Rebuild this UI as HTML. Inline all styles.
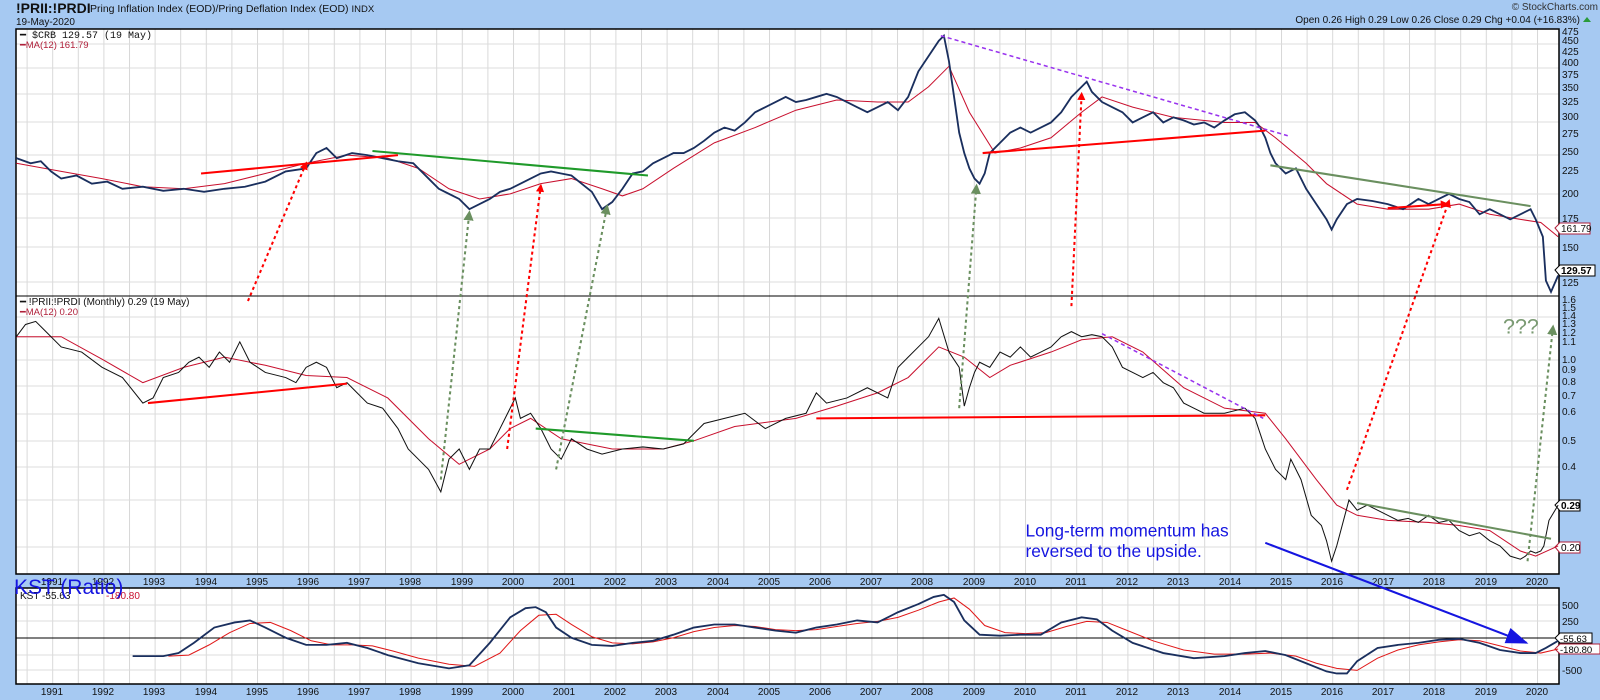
<!DOCTYPE html>
<html><head><meta charset="utf-8"><style>
body{margin:0;background:#a6c9f2;}
svg{display:block;font-family:"Liberation Sans",sans-serif;}
</style></head><body>
<svg width="1600" height="700" viewBox="0 0 1600 700" xmlns="http://www.w3.org/2000/svg">
<defs>
<pattern id="g" x="1" y="0" width="25.6" height="700" patternUnits="userSpaceOnUse"><line x1="0.5" y1="0" x2="0.5" y2="700" stroke="#d8d8d8" stroke-width="1"/></pattern>
<marker id="ar" markerWidth="8" markerHeight="8" refX="6" refY="4" orient="auto" markerUnits="userSpaceOnUse"><path d="M0,0 L8,4 L0,8z" fill="red"/></marker>
<marker id="ag" markerWidth="10" markerHeight="10" refX="8" refY="5" orient="auto" markerUnits="userSpaceOnUse"><path d="M0,0 L10,5 L0,10z" fill="#6a8f5f"/></marker>
<marker id="ab" markerWidth="22" markerHeight="16" refX="20" refY="8" orient="auto" markerUnits="userSpaceOnUse"><path d="M0,0 L22,8 L0,16z" fill="#1515e0"/></marker>
</defs>
<rect x="0" y="0" width="1600" height="700" fill="#a6c9f2"/>
<rect x="16" y="29" width="1543" height="545" fill="#fff"/>
<rect x="16" y="588" width="1543" height="96" fill="#fff"/>
<rect x="16" y="29" width="1543" height="545" fill="url(#g)"/>
<rect x="16" y="588" width="1543" height="96" fill="url(#g)"/>
<g stroke="#dcdcdc" stroke-width="1">
<line x1="16" y1="44" x2="1559" y2="44"/><line x1="16" y1="68" x2="1559" y2="68"/><line x1="16" y1="94" x2="1559" y2="94"/><line x1="16" y1="122" x2="1559" y2="122"/><line x1="16" y1="155" x2="1559" y2="155"/><line x1="16" y1="194" x2="1559" y2="194"/><line x1="16" y1="218" x2="1559" y2="218"/><line x1="16" y1="247" x2="1559" y2="247"/><line x1="16" y1="282" x2="1559" y2="282"/>
<line x1="16" y1="317" x2="1559" y2="317"/><line x1="16" y1="337" x2="1559" y2="337"/><line x1="16" y1="360" x2="1559" y2="360"/><line x1="16" y1="386" x2="1559" y2="386"/><line x1="16" y1="414" x2="1559" y2="414"/><line x1="16" y1="441" x2="1559" y2="441"/><line x1="16" y1="467" x2="1559" y2="467"/><line x1="16" y1="500" x2="1559" y2="500"/><line x1="16" y1="547" x2="1559" y2="547"/>
<line x1="16" y1="605" x2="1559" y2="605"/><line x1="16" y1="621" x2="1559" y2="621"/><line x1="16" y1="655" x2="1559" y2="655"/><line x1="16" y1="670" x2="1559" y2="670"/>
</g>
<rect x="16" y="29" width="1543" height="545" fill="none" stroke="#000" stroke-width="1.5"/>
<rect x="16" y="588" width="1543" height="96" fill="none" stroke="#000" stroke-width="1.5"/>
<line x1="16" y1="296" x2="1559" y2="296" stroke="#000" stroke-width="1"/>
<line x1="16" y1="638" x2="1559" y2="638" stroke="#000" stroke-width="1"/>

<text x="16" y="13" font-size="14" font-weight="bold" fill="#111">!PRII:!PRDI</text>
<text x="90" y="12" font-size="10.5" fill="#111">Pring Inflation Index (EOD)/Pring Deflation Index (EOD)  <tspan font-size="9.5">INDX</tspan></text>
<text x="16" y="25" font-size="10" fill="#111">19-May-2020</text>
<text x="1598" y="10" font-size="10" fill="#333" text-anchor="end">© StockCharts.com</text>
<text x="1580" y="23" font-size="10" fill="#111" text-anchor="end">Open 0.26  High 0.29  Low 0.26  Close 0.29  Chg +0.04 (+16.83%)</text>
<path d="M1583,22 l4,-5 l4,5z" fill="#2a9a3a"/>
<text x="20" y="38" font-size="10" font-family="Liberation Mono,monospace" fill="#111">━ $CRB 129.57 (19 May)</text>
<text x="20" y="48" font-size="9.5" fill="#b0203a">━MA(12) 161.79</text>
<text x="20" y="305" font-size="10" fill="#111">━ !PRII:!PRDI (Monthly) 0.29 (19 May)</text>
<text x="20" y="315" font-size="9.5" fill="#b0203a">━MA(12) 0.20</text>

<g font-size="10" fill="#111">
<text x="1562" y="35">475</text><text x="1562" y="44">450</text><text x="1562" y="55">425</text><text x="1562" y="66">400</text><text x="1562" y="78">375</text><text x="1562" y="91">350</text><text x="1562" y="105">325</text><text x="1562" y="120">300</text><text x="1562" y="137">275</text><text x="1562" y="155">250</text><text x="1562" y="174">225</text><text x="1562" y="197">200</text><text x="1562" y="222">175</text><text x="1562" y="251">150</text><text x="1562" y="286">125</text>
<text x="1562" y="303">1.6</text><text x="1562" y="311">1.5</text><text x="1562" y="319">1.4</text><text x="1562" y="327">1.3</text><text x="1562" y="336">1.2</text><text x="1562" y="345">1.1</text><text x="1562" y="363">1.0</text><text x="1562" y="373">0.9</text><text x="1562" y="385">0.8</text><text x="1562" y="399">0.7</text><text x="1562" y="415">0.6</text><text x="1562" y="444">0.5</text><text x="1562" y="470">0.4</text>
<text x="1562" y="609">500</text><text x="1562" y="625">250</text><text x="1562" y="674">-500</text>
</g>
<g font-size="10">
<path d="M1555,228 l5,-5 h30 v11 h-30z" fill="#fff" stroke="#b0203a"/><text x="1561" y="232" fill="#111">161.79</text>
<path d="M1555,270 l5,-5 h35 v11 h-35z" fill="#fff" stroke="#000"/><text x="1561" y="274" font-weight="bold" fill="#000">129.57</text>
<path d="M1555,505 l5,-5 h20 v11 h-20z" fill="#fff" stroke="#000"/><text x="1561" y="509" font-weight="bold">0.29</text>
<path d="M1555,547 l5,-5 h20 v11 h-20z" fill="#fff" stroke="#b0203a"/><text x="1561" y="551">0.20</text>
<path d="M1555,638 l5,-5 h32 v10 h-32z" fill="#fff" stroke="#000"/><text x="1560" y="642" font-size="9.5">-55.63</text>
<path d="M1555,649 l5,-5 h40 v10 h-40z" fill="#fff" stroke="#b0203a"/><text x="1560" y="653" font-size="9.5">-180.80</text>
</g>

<g font-size="10" fill="#111" text-anchor="middle" id="yrs">
<text x="52" y="585">1991</text><text x="103" y="585">1992</text><text x="154" y="585">1993</text><text x="206" y="585">1994</text><text x="257" y="585">1995</text><text x="308" y="585">1996</text><text x="359" y="585">1997</text><text x="410" y="585">1998</text><text x="462" y="585">1999</text><text x="513" y="585">2000</text><text x="564" y="585">2001</text><text x="615" y="585">2002</text><text x="666" y="585">2003</text><text x="718" y="585">2004</text><text x="769" y="585">2005</text><text x="820" y="585">2006</text><text x="871" y="585">2007</text><text x="922" y="585">2008</text><text x="974" y="585">2009</text><text x="1025" y="585">2010</text><text x="1076" y="585">2011</text><text x="1127" y="585">2012</text><text x="1178" y="585">2013</text><text x="1230" y="585">2014</text><text x="1281" y="585">2015</text><text x="1332" y="585">2016</text><text x="1383" y="585">2017</text><text x="1434" y="585">2018</text><text x="1486" y="585">2019</text><text x="1537" y="585">2020</text>
</g>
<use href="#yrs" y="110"/>

<g transform="scale(1.0204)">
<polyline fill="none" stroke="#c8102e" stroke-width="1" points="16,160 60,168 100,175 140,183 180,185 220,180 260,170 300,160 340,152 380,155 410,165 440,185 470,195 500,190 530,180 560,175 590,185 610,192 630,185 660,165 700,140 740,125 780,108 820,98 860,100 890,100 910,85 930,65 950,110 975,150 1000,145 1030,135 1060,110 1080,95 1110,105 1150,115 1200,120 1230,120 1250,135 1280,160 1300,180 1330,200 1360,205 1400,205 1430,200 1460,210 1490,215 1510,218 1527,232"/>
<polyline fill="none" stroke="#1a2f5e" stroke-width="1.8" points="16,155 30,160 40,158 50,168 60,175 75,172 90,180 105,178 120,185 140,183 160,187 180,185 200,188 220,185 240,183 260,178 280,168 300,165 310,150 320,145 330,155 345,150 360,152 375,155 390,158 405,160 420,175 430,185 440,190 450,195 460,205 470,200 480,195 490,188 500,185 510,180 520,175 530,170 540,168 550,170 560,172 570,180 580,188 590,205 600,198 610,185 620,170 630,168 640,160 650,155 660,150 670,150 680,145 690,138 700,130 710,125 720,128 730,120 740,110 750,105 760,100 770,95 780,100 790,98 800,95 810,92 820,95 830,100 840,105 850,110 860,105 870,100 880,108 890,95 900,70 910,55 920,40 925,35 930,60 935,95 940,130 945,150 950,165 955,175 960,180 965,170 970,150 980,140 990,130 1000,125 1010,130 1020,125 1030,120 1040,110 1050,95 1060,85 1065,80 1070,90 1080,100 1090,105 1100,110 1110,120 1120,115 1130,110 1140,120 1150,115 1160,118 1170,122 1180,120 1190,125 1200,118 1210,112 1220,110 1230,118 1235,125 1240,135 1245,150 1250,160 1260,170 1270,165 1280,185 1290,200 1300,215 1305,225 1310,215 1320,200 1330,195 1345,197 1360,200 1375,205 1390,195 1400,200 1410,195 1420,190 1430,195 1440,198 1450,210 1460,205 1470,210 1480,215 1490,210 1500,205 1505,215 1512,232 1515,275 1520,286 1527,270"/>

<line x1="197" y1="170" x2="390" y2="152" stroke="red" stroke-width="2"/>
<line x1="365" y1="148" x2="635" y2="172" stroke="#1f9a2a" stroke-width="2"/>
<line x1="963" y1="150" x2="1240" y2="128" stroke="red" stroke-width="2"/>
<line x1="922" y1="35" x2="1262" y2="133" stroke="#9933ee" stroke-width="1.5" stroke-dasharray="4,3"/>
<line x1="1245" y1="162" x2="1500" y2="202" stroke="#6a8f5f" stroke-width="2"/>
<line x1="1360" y1="204" x2="1418" y2="200" stroke="red" stroke-width="2" marker-end="url(#ar)"/>

<polyline fill="none" stroke="#c8102e" stroke-width="1" points="16,330 60,330 100,352 140,375 180,360 220,350 260,358 300,368 340,370 380,390 420,430 450,455 480,440 500,420 520,410 550,430 600,440 650,440 680,432 720,418 780,410 820,398 860,385 890,370 920,340 945,350 970,370 990,358 1030,345 1060,333 1090,330 1120,345 1160,380 1200,400 1240,405 1260,430 1290,470 1310,495 1330,505 1360,510 1400,512 1430,515 1460,520 1490,540 1505,545 1527,535"/>
<polyline fill="none" stroke="#111" stroke-width="1" points="16,330 25,318 35,315 45,325 60,340 80,345 100,360 120,370 140,395 150,390 160,370 175,365 185,355 195,350 205,360 215,345 225,355 235,335 245,355 260,365 280,370 290,375 300,360 310,355 320,360 330,380 340,375 350,385 360,395 375,400 390,420 400,440 410,450 420,460 432,482 440,450 450,440 460,460 470,440 480,440 490,420 500,400 505,390 510,410 520,405 530,420 540,440 550,450 560,430 575,440 590,445 610,440 630,438 650,440 670,435 690,415 710,410 730,405 750,420 770,410 790,405 800,385 810,395 830,390 850,380 870,390 880,360 890,350 900,340 910,330 920,312 930,345 940,360 945,398 950,380 955,365 960,355 970,360 980,345 990,350 1000,340 1010,350 1020,345 1030,340 1040,330 1050,325 1060,330 1070,328 1080,330 1090,340 1100,360 1110,365 1120,370 1130,365 1140,375 1150,380 1160,395 1170,400 1180,405 1200,405 1220,400 1230,410 1235,425 1240,440 1250,460 1260,470 1265,450 1275,470 1285,505 1295,515 1300,530 1305,550 1310,535 1318,505 1322,490 1330,500 1340,495 1350,500 1360,505 1370,510 1380,508 1390,512 1400,505 1410,512 1420,510 1430,520 1440,525 1450,522 1460,530 1470,535 1475,540 1480,545 1490,548 1495,545 1500,540 1505,542 1510,540 1513,535 1518,510 1527,495"/>

<line x1="145" y1="395" x2="340" y2="376" stroke="red" stroke-width="2"/>
<line x1="525" y1="420" x2="680" y2="432" stroke="#1f9a2a" stroke-width="2"/>
<line x1="800" y1="410" x2="1240" y2="407" stroke="red" stroke-width="2"/>
<line x1="1080" y1="327" x2="1238" y2="410" stroke="#9933ee" stroke-width="1.5" stroke-dasharray="4,3"/>
<line x1="1330" y1="493" x2="1520" y2="528" stroke="#6a8f5f" stroke-width="2"/>

<g stroke-width="2" stroke-dasharray="3,3" fill="none">
<line x1="243" y1="295" x2="300" y2="160" stroke="red" marker-end="url(#ar)"/>
<line x1="432" y1="470" x2="460" y2="208" stroke="#6a8f5f" marker-end="url(#ag)"/>
<line x1="497" y1="440" x2="530" y2="182" stroke="red" marker-end="url(#ar)"/>
<line x1="545" y1="460" x2="595" y2="202" stroke="#6a8f5f" marker-end="url(#ag)"/>
<line x1="940" y1="400" x2="957" y2="182" stroke="#6a8f5f" marker-end="url(#ag)"/>
<line x1="1050" y1="300" x2="1060" y2="92" stroke="red" marker-end="url(#ar)"/>
<line x1="1320" y1="480" x2="1420" y2="197" stroke="red" marker-end="url(#ar)"/>
<line x1="1497" y1="550" x2="1522" y2="320" stroke="#6a8f5f" marker-end="url(#ag)"/>
</g>
<text x="1473" y="327" font-size="21" fill="#7a9a72">???</text>
<text x="1005" y="526" font-size="17" fill="#1515e0">Long-term momentum has</text>
<text x="1005" y="546" font-size="17" fill="#1515e0">reversed to the upside.</text>
<line x1="1240" y1="532" x2="1496" y2="630" stroke="#1515e0" stroke-width="2" marker-end="url(#ab)"/>

<polyline fill="none" stroke="#e01818" stroke-width="1" points="165,643 185,642 205,632 225,620 245,611 265,610 285,618 305,628 325,632 345,632 365,633 385,638 410,645 440,651 465,653 490,640 510,618 528,603 545,602 560,612 580,624 600,630 620,631 640,629 660,625 680,619 700,615 720,613 740,614 760,617 780,618 800,617 820,614 840,611 860,609 880,605 900,598 920,590 935,586 950,597 965,613 985,620 1005,621 1025,620 1045,614 1065,609 1085,610 1105,618 1130,628 1160,637 1190,641 1220,641 1245,640 1270,643 1290,650 1310,655 1330,657 1350,645 1370,637 1390,632 1410,629 1430,627 1450,628 1470,633 1490,638 1510,640 1527,636"/>
<polyline fill="none" stroke="#1a2f5e" stroke-width="1.8" points="130,643 160,643 175,640 190,630 210,615 230,610 245,608 260,615 280,625 300,632 320,632 340,630 360,635 380,642 410,650 440,655 460,652 480,630 500,605 515,596 525,595 535,600 545,615 560,625 580,632 600,633 620,630 640,628 660,622 680,615 700,612 720,612 740,615 760,618 780,620 800,615 820,612 840,608 860,610 880,600 900,592 915,585 925,583 935,590 945,608 960,622 980,623 1000,622 1020,622 1040,610 1060,605 1075,607 1090,618 1110,630 1140,640 1170,645 1200,643 1220,640 1240,638 1260,642 1280,650 1300,658 1310,660 1320,660 1330,648 1350,635 1370,632 1390,630 1410,627 1430,626 1450,630 1470,637 1490,640 1505,640 1515,635 1527,628"/>
</g>

<text x="20" y="599" font-size="10" fill="#111">KST -55.63</text><text x="106" y="599" font-size="10" fill="#c8102e">-180.80</text>
<text x="14" y="594" font-size="21" fill="#1515e0">KST (Ratio)</text>
</svg>
</body></html>
